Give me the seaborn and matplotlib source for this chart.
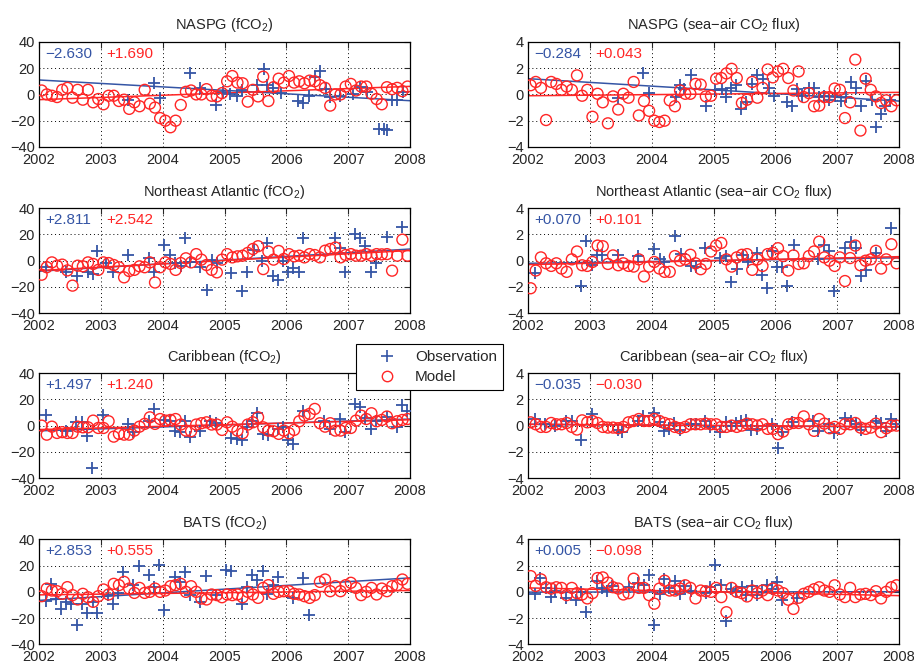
import numpy as np
import seaborn as sns
import matplotlib.pyplot as plt
from matplotlib.lines import Line2D
from matplotlib.ticker import MultipleLocator

# ---- data -------------------------------------------------------------
years = [2002, 2003, 2004, 2005, 2006, 2007, 2008]

naspg_fco2_model = [3, 0, -1, -2, 3.5, 5, -2.5, 3.5, -4, 3.5, -6, -3.5, -7.5, -1, -1, -5, -4, -11, -6, -9,
                    3.5, -7, -10, -18, -20, -25, -20, -8, 2, 3, 0, 0, 4, -1, -1.5, 1, 10, 14, 9, 8.5,
                    -5.5, 3.5, -1.5, 13.5, -5, 5.5, 12, 9, 14, 9, 10, 8.5, 10.5, 10, 7, 5, -8.5, 0, 0, 6,
                    8, 3, 6, 6, 0.5, -3.5, -7.5, 5.5, 4, 5, 2.5, 6]
naspg_fco2_obs_t = [2003.44, 2003.86, 2003.96, 2004.44, 2004.60, 2004.86, 2004.97, 2005.09, 2005.20, 2005.28,
                    2005.52, 2005.63, 2005.68, 2005.79, 2005.92, 2006.19, 2006.27, 2006.36, 2006.46, 2006.54,
                    2006.64, 2006.70, 2006.87, 2007.08, 2007.19, 2007.30, 2007.49, 2007.57, 2007.63, 2007.70,
                    2007.79, 2007.89]
naspg_fco2_obs = [-4, 8.5, -3, 16, 5, -8, 2, 0.5, -1, 3, 7, 19.5, 7, 5, 1, -5, -6.5, -1, 13, 18,
                  4, -2, -1.5, 0.5, 6, 2, -26, -26, -27, -4, -4, 2]

naspg_flux_model = [0.7, 0.95, 0.5, -1.95, 0.95, 0.8, 0.35, 0.6, 0.35, 1.45, -0.1, 0.35, -1.7, 0.05, -0.6,
                    -2.2, -0.15, -1.15, 0.05, -0.25, 0.95, -1.6, -0.5, -1.25, -2.0, -2.1, -2.0, -0.45, -0.9,
                    0.3, 0.05, 0.05, 0.8, 0.75, -0.15, -0.1, 1.2, 1.25, 1.6, 1.95, 1.25, -0.65, -0.4, 0.95,
                    -0.25, 0.5, 1.9, 1.3, 1.75, 1.95, 1.25, 0.3, 1.75, -0.2, 0.1, -0.9, -0.85, -0.2, -0.2,
                    0.45, 0.35, -1.8, -0.6, 2.65, -2.75, 1.2, 0.35, -0.15, -0.65, -0.45, -0.9, -0.45]
naspg_flux_obs_t = [2003.46, 2003.86, 2003.95, 2004.39, 2004.46, 2004.52, 2004.63, 2004.87, 2005.02, 2005.14,
                    2005.20, 2005.28, 2005.36, 2005.45, 2005.52, 2005.62, 2005.71, 2005.80, 2005.89, 2005.98,
                    2006.19, 2006.27, 2006.35, 2006.43, 2006.54, 2006.62, 2006.71, 2006.79, 2006.87, 2006.97,
                    2007.06, 2007.14, 2007.22, 2007.30, 2007.38, 2007.47, 2007.56, 2007.63, 2007.70, 2007.78,
                    2007.86]
naspg_flux_obs = [-0.3, 1.6, 0.1, -0.2, 0.7, 0.4, 1.45, -0.9, 0.35, 0.45, -0.2, 0.5, 0.75, -1.1, -0.6,
                  0.8, 1.5, 1.2, 0.5, -0.1, -0.6, -0.9, 0.45, -0.1, 0.5, 0.5, -0.2, -0.1, -0.45, -0.15,
                  -0.5, -0.2, 0.95, 0.5, -0.9, 1.0, -0.45, -2.45, -1.5, -0.9, -0.4]

nea_fco2_model = [-10.7, -5, -1.3, -3.8, -3, -7.4, -19, -3.8, -4.3, -1.3, -2.5, -7, -1.3, -1.8, -3.3, -5,
                  -12.7, -7.9, -7, -4.3, -5, -1.3, -16.6, -5, -1.3, -2.5, -7, -1.8, 1.8, -1.3, 5, 0.8,
                  -3.3, -7, -8.9, 0.8, 5, 2.5, 3.3, 3.8, 5.9, 8.9, 11, -6.4, 6.9, 0.8, 7.4, 1.3, 5, 3.3,
                  3.8, 2.5, 5, 4.3, 2.5, 7.6, 8.9, 10, 2.5, 4.3, 5, 3.8, 3.8, 5, 3.8, 5, 4.8, 5, -7.6,
                  3.8, 16, 3.8]
nea_fco2_obs_t = [2002.12, 2002.44, 2002.62, 2002.79, 2002.87, 2002.94, 2003.09, 2003.20, 2003.44, 2003.78,
                  2003.86, 2004.02, 2004.12, 2004.20, 2004.30, 2004.36, 2004.44, 2004.60, 2004.71, 2004.80,
                  2004.87, 2005.11, 2005.28, 2005.36, 2005.47, 2005.60, 2005.68, 2005.79, 2005.87, 2005.95,
                  2006.03, 2006.11, 2006.21, 2006.27, 2006.79, 2006.87, 2006.95, 2007.11, 2007.19, 2007.27,
                  2007.36, 2007.45, 2007.62, 2007.87]
nea_fco2_obs = [-5, -8.4, -11.5, -8.4, -10.2, 7.6, -1.8, -8.9, 4.3, 1.8, -8.4, 12.2, 4.3, -1.8, -4.3, 17,
                -0.8, -5, -22.4, 0.8, -1.8, -9.4, -22.9, -8.4, 8.4, 0, 13.5, -12, -14.5, 0, -8.4, -5.9,
                -8.4, 17, 17, 9.4, -8.4, 20.4, 17, 11, -8.9, -1.8, 17.8, 26]

nea_flux_model = [-2.1, -0.75, 0.25, -0.2, -0.4, -0.2, -0.6, -0.85, 0.1, 0.7, -0.35, -0.4, -0.1, 1.15,
                  1.1, -0.25, 0.4, -0.35, -0.2, -0.4, -0.45, 0.1, -1.2, -0.45, -0.1, -0.6, -0.85, -0.85,
                  0.35, 0, 0.1, 0.45, -0.2, -0.65, -0.25, 0.7, 1.15, 1.35, 0.1, -0.45, 0.25, 0.45, 0.5,
                  -0.7, 0.1, -0.4, 0.5, 0.6, 0.95, 0.35, -0.75, 0.4, -0.25, -0.2, 0.35, 0.7, 1.45, 0.25,
                  0, -0.4, 0.25, -1.55, 0.2, 1.15, -0.35, 0, 0.1, 0.75, -0.6, 0.1, 1.25, -0.2]
nea_flux_obs_t = [2002.12, 2002.86, 2002.94, 2003.04, 2003.12, 2003.20, 2003.46, 2003.78, 2004.04, 2004.13,
                  2004.20, 2004.37, 2004.47, 2004.63, 2004.71, 2004.86, 2005.11, 2005.20, 2005.28, 2005.38,
                  2005.48, 2005.56, 2005.71, 2005.79, 2005.87, 2005.95, 2006.03, 2006.11, 2006.19, 2006.30,
                  2006.69, 2006.79, 2006.87, 2006.95, 2007.13, 2007.22, 2007.30, 2007.38, 2007.46, 2007.62,
                  2007.87]
nea_flux_obs = [-0.95, -1.95, 1.5, -0.35, 0.45, 0.45, 0.45, 0.35, 0.9, 0.1, -0.1, 1.9, 0.5, -0.4, -0.5,
                0.95, 0.2, 0.35, -1.65, -0.65, 0.45, -0.1, 0.6, -1.1, -2.05, 0.75, -0.5, -0.5, -1.9, 1.2,
                0.1, 1.2, 0.7, -2.3, 1.0, 1.45, 0.95, -1.2, -0.7, 0.6, 2.5]

car_fco2_model = [0, -6.9, -0.8, -5.6, -5, -5.6, -5.6, -0.8, -1.3, -1.3, 3.8, -1.8, -1.8, 3.3, -8.4, -6.3,
                  -6.9, -6.9, -3.8, -0.8, 1.3, 6.3, 1.3, 5, 3.8, 4.3, 5, 0.8, -3.8, -4.3, 0.8, 1.8, 2.5,
                  0.8, 0.8, -3.3, 2.5, -0.8, -3.8, -5.8, 0.8, 2.5, 6.3, -1.3, -3.8, -4.3, -6.3, -3.8,
                  -5.8, -3.3, 3.3, 7.6, 8.9, 12.7, 1.8, -0.8, 1.8, -3.8, -3.8, -1.8, -1.8, 3.8, 7.6, 5,
                  9.4, 3.3, 4.3, 6.9, 1.8, 3.3, 4.3, 5]
car_fco2_obs_t = [2002.12, 2002.44, 2002.60, 2002.69, 2002.78, 2002.86, 2003.03, 2003.44, 2003.52, 2003.78,
                  2003.86, 2004.02, 2004.12, 2004.20, 2004.28, 2004.36, 2004.44, 2004.60, 2004.77, 2004.86,
                  2005.11, 2005.20, 2005.28, 2005.36, 2005.44, 2005.53, 2005.62, 2005.71, 2005.87, 2005.95,
                  2006.03, 2006.11, 2006.27, 2006.61, 2006.71, 2006.86, 2006.95, 2007.11, 2007.19, 2007.27,
                  2007.36, 2007.45, 2007.62, 2007.79, 2007.87, 2007.95]
car_fco2_obs = [8.1, -4.3, 2.5, 2.5, -7.6, -32, 8.4, 1.3, -5, 3.3, 12.7, 4.3, 3.3, -4.3, -5, 3.3, -8.4,
                -4.3, 3.3, 1.8, -9.4, -10.2, -10.9, -1.3, 3.3, 9.4, -6.3, -6.9, -2.5, -0.8, -10.9, -14,
                10.9, 3.3, -2.5, 5, -5, 16.5, 14, 5.8, -2.5, 3.3, 6.9, -0.8, 16, 11.4]

car_flux_model = [0.25, 0.1, -0.1, -0.1, 0.2, 0.1, 0.1, 0.2, -0.1, -0.3, 0.4, 0.25, 0.35, 0.2, -0.1,
                  -0.15, -0.15, -0.2, -0.1, 0.25, 0.35, 0.5, 0.35, 0.35, 0.5, 0.35, 0.2, 0.1, -0.1, -0.2,
                  -0.1, 0.1, 0.1, 0.1, 0.15, 0.1, 0.1, -0.1, -0.1, 0, -0.1, 0, 0.15, 0.1, 0, 0.1, -0.25,
                  -0.25, -0.65, -0.45, 0.1, 0.2, 0.2, 0.7, 0.1, -0.4, 0.5, 0.15, -0.2, -0.1, -0.25, 0.1,
                  0.1, 0.2, -0.15, -0.25, -0.15, 0.15, -0.5, -0.2, 0, 0]
car_flux_obs_t = [2002.12, 2002.28, 2002.44, 2002.61, 2002.71, 2002.86, 2003.04, 2003.46, 2003.52, 2003.78,
                  2003.86, 2004.04, 2004.13, 2004.20, 2004.28, 2004.36, 2004.45, 2004.63, 2004.71, 2004.86,
                  2004.95, 2005.11, 2005.20, 2005.28, 2005.36, 2005.45, 2005.52, 2005.61, 2005.70, 2005.94,
                  2006.04, 2006.11, 2006.27, 2006.61, 2006.69, 2006.87, 2006.95, 2007.12, 2007.22, 2007.30,
                  2007.38, 2007.62, 2007.70, 2007.79, 2007.87, 2007.95]
car_flux_obs = [0.5, 0.1, 0, 0.35, 0.35, -1.1, 0.85, -0.35, -0.5, 0.35, 0.7, 0.95, 0.25, -0.4, -0.25, 0.2,
                -0.3, 0.1, 0.1, 0.35, -0.1, -0.45, 0.25, 0, 0.2, 0.35, 0.4, -0.3, -0.25, 0.15, -1.7, -0.5,
                0.25, 0.35, -0.4, 0.15, -0.6, 0.6, 0.35, 0.15, -0.3, 0.35, 0.2, -0.4, 0.5, 0.15]

bats_fco2_model = [-3.3, 2.5, 1, 0.5, -1.5, 3.6, -2.5, -5.8, -1.5, -4.1, -7.6, -3.3, 1.8, -2, 6.1, 5.1,
                   7.6, 2.5, -0.8, 3, -0.8, 0, 2.5, 0, 1, 4.3, 5.1, 6.1, 0, 4.3, 0, -5.1, -5.8, -2, -2.5,
                   -4.1, -2, -2.5, -2, -4.1, 0, -2, -4.6, 3, 5.1, -1.5, 0, 0.5, 0.5, -1.5, -2, -3.3, -4.6,
                   -2.5, 7.6, 9.4, 0.5, 4.3, 0.5, 5.1, 6.9, 3, -2.5, 0, 3, -2, 2.5, 0.5, 4.3, 5.1, 9.4, 6.1]
bats_fco2_obs_t = [2002.12, 2002.20, 2002.28, 2002.36, 2002.44, 2002.52, 2002.62, 2002.70, 2002.78, 2002.87,
                   2002.94, 2003.12, 2003.20, 2003.28, 2003.36, 2003.52, 2003.62, 2003.78, 2003.86, 2003.94,
                   2004.02, 2004.20, 2004.28, 2004.36, 2004.44, 2004.60, 2004.70, 2004.86, 2005.03, 2005.11,
                   2005.28, 2005.36, 2005.44, 2005.52, 2005.62, 2005.68, 2005.78, 2005.87, 2006.11, 2006.27,
                   2006.37]
bats_fco2_obs = [-6.6, 6.1, -5.8, -12.7, -7.6, -9.1, -24.9, -9.1, -16, -7.6, -16, -2.5, -9.6, -0.8, 15.2,
                 5.1, 19.5, 12.7, 3.6, 20.8, -14.2, 11.2, 7.6, 15.2, -2.5, -7.6, 11.9, -2.5, 17, 15.7, -9.1,
                 3.6, 12.7, 9.4, 16.2, -2, 5.1, 11.2, -4.6, 10.7, -17.8]

bats_flux_model = [1.2, 0.45, 0.95, 0.35, 0.25, 0.35, 0.3, -0.25, 0.3, -0.1, -0.2, -0.5, -0.1, 1.05, 1.1,
                   0.7, 0.35, 0.25, -0.2, -0.1, 1.0, 0.3, 0.3, -0.25, -0.9, 0.25, 0.85, 0.1, 0.1, 0.25,
                   0.5, 0.3, -0.5, 0.1, 0.05, 0, 0.3, -0.4, -1.55, 0.3, 0, -0.1, -0.35, 0.1, -0.1, 0.1,
                   -0.25, 0.25, 0.1, -0.1, -0.6, -1.3, -0.45, -0.15, 0, 0.2, 0.35, 0.1, 0, 0.5, -0.2,
                   -0.4, 0.3, -0.4, -0.2, -0.15, -0.25, 0.05, -0.5, 0, 0.35, 0.5]
bats_flux_obs_t = [2002.12, 2002.20, 2002.29, 2002.37, 2002.44, 2002.62, 2002.78, 2002.86, 2002.94, 2003.12,
                   2003.20, 2003.28, 2003.36, 2003.63, 2003.78, 2003.87, 2003.95, 2004.03, 2004.13, 2004.20,
                   2004.28, 2004.37, 2004.45, 2004.53, 2004.63, 2004.87, 2004.95, 2005.03, 2005.12, 2005.20,
                   2005.29, 2005.37, 2005.46, 2005.53, 2005.62, 2005.71, 2005.79, 2005.87, 2005.95, 2006.03,
                   2006.11, 2006.35]
bats_flux_obs = [-0.15, 1.05, 0.3, -0.4, 0.05, -0.45, -0.6, 0, -1.55, 0.8, 0.3, 0.1, 0.45, 0.35, 0.7, 0.5,
                 1.25, -2.55, -0.15, 1.0, 0.3, 0.85, -0.15, 0.45, 0.1, -0.1, 0.35, 2.05, 0.5, -2.2, 0.25,
                 0.1, 0.35, -0.25, 0.45, -0.25, 0, 0.5, 0.2, 0.75, -0.6, -0.45]

# trend slopes (per year) and trend value at 2002
obs_slope = [-2.630, -0.284, 2.811, 0.070, 1.497, -0.035, 2.853, 0.005]
model_slope = [1.690, 0.043, 2.542, 0.101, 1.240, -0.030, 0.555, -0.098]
obs_start = [11, 1.2, -8, -0.2, -4, 0.1, -6.5, -0.02]
model_start = [-4, -0.1, -7.5, -0.3, -3, 0.1, -2.3, 0.3]

titles = ["NASPG (fCO$_2$)", "NASPG (sea\u2212air CO$_2$ flux)",
          "Northeast Atlantic (fCO$_2$)", "Northeast Atlantic (sea\u2212air CO$_2$ flux)",
          "Caribbean (fCO$_2$)", "Caribbean (sea\u2212air CO$_2$ flux)",
          "BATS (fCO$_2$)", "BATS (sea\u2212air CO$_2$ flux)"]

models = [naspg_fco2_model, naspg_flux_model, nea_fco2_model, nea_flux_model,
          car_fco2_model, car_flux_model, bats_fco2_model, bats_flux_model]
obs_t = [naspg_fco2_obs_t, naspg_flux_obs_t, nea_fco2_obs_t, nea_flux_obs_t,
         car_fco2_obs_t, car_flux_obs_t, bats_fco2_obs_t, bats_flux_obs_t]
obs_v = [naspg_fco2_obs, naspg_flux_obs, nea_fco2_obs, nea_flux_obs,
         car_fco2_obs, car_flux_obs, bats_fco2_obs, bats_flux_obs]

# ---- style ------------------------------------------------------------
sns.set_style("white")
plt.rcParams['font.family'] = ['Liberation Sans', 'DejaVu Sans']
plt.rcParams['mathtext.fontset'] = 'custom'
plt.rcParams['mathtext.rm'] = 'Liberation Sans'
plt.rcParams['mathtext.it'] = 'Liberation Sans'
plt.rcParams['mathtext.default'] = 'regular'

BLUE = '#3555a5'
RED = '#ff2626'

fig = plt.figure(figsize=(9.14, 6.65), dpi=100)

lefts = [0.0427, 0.5777]
bottoms = [0.779, 0.529, 0.281, 0.031]
W, H = 0.406, 0.158


def fmt(v):
    return f"{v:+.3f}".replace('-', '\u2212')


for i in range(8):
    row, col = divmod(i, 2)
    ax = fig.add_axes([lefts[col], bottoms[row], W, H])
    lim = 40 if col == 0 else 4

    m = np.asarray(models[i], dtype=float)
    mt = 2002 + (np.arange(len(m)) + 0.5) / 12

    tline = np.array([2002, 2008])
    sns.lineplot(x=tline, y=obs_start[i] + obs_slope[i] * (tline - 2002), color=BLUE, lw=1.1, ax=ax)
    sns.lineplot(x=tline, y=model_start[i] + model_slope[i] * (tline - 2002), color=RED, lw=1.1, ax=ax)
    sns.scatterplot(x=obs_t[i], y=obs_v[i], marker='+', color=BLUE, s=70, linewidth=1.3, ax=ax, zorder=3)
    sns.scatterplot(x=mt, y=m, marker='o', facecolor='none', edgecolor=RED, s=62, linewidth=1.0,
                    ax=ax, zorder=4)

    ax.set_xlim(2002, 2008)
    ax.set_ylim(-lim, lim)
    ax.set_xticks(years)
    ax.yaxis.set_major_locator(MultipleLocator(lim / 2))
    ax.grid(True, linestyle=(0, (1, 3)), color='black', linewidth=0.7)
    ax.tick_params(direction='in', top=True, right=True, labelsize=10.5, length=4, width=0.8)
    ax.tick_params(axis='x', pad=4)
    ax.tick_params(axis='y', pad=3)
    for sp in ax.spines.values():
        sp.set_color('black')
        sp.set_linewidth(0.9)
    ax.set_xlabel('')
    ax.set_ylabel('')
    ax.set_title(titles[i], fontsize=10.5, pad=9)

    ax.text(0.016, 0.885, fmt(obs_slope[i]), color=BLUE, fontsize=11, transform=ax.transAxes, va='center')
    ax.text(0.182, 0.885, fmt(model_slope[i]), color=RED, fontsize=11, transform=ax.transAxes, va='center')

handles = [Line2D([], [], marker='+', ls='none', color=BLUE, ms=8, mew=1.2, label='Observation'),
           Line2D([], [], marker='o', ls='none', mfc='none', mec=RED, ms=7.5, mew=1.0, label='Model')]
leg = fig.legend(handles=handles, loc='upper left', bbox_to_anchor=(0.3895, 0.4827), fontsize=11,
                 frameon=True, fancybox=False, framealpha=1, edgecolor='black', borderpad=0.4,
                 borderaxespad=0, handlelength=3.3, handletextpad=0.15, labelspacing=0.4)
leg.get_frame().set_linewidth(0.8)

fig.savefig('out.png', dpi=100)
